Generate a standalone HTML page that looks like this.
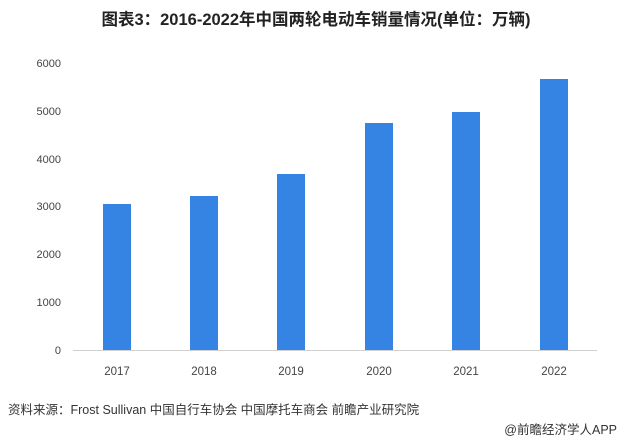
<!DOCTYPE html>
<html><head><meta charset="utf-8"><style>
body{margin:0;width:618px;height:442px;background:#fff;overflow:hidden;font-family:"Liberation Sans","Noto Sans CJK SC",sans-serif;}
</style></head><body>
<svg width="618" height="442" xmlns="http://www.w3.org/2000/svg" style="position:absolute;left:0;top:0">
<text x="316" y="25" text-anchor="middle" font-size="16.5" font-weight="bold" fill="#222" font-family="Liberation Sans,Noto Sans CJK SC,sans-serif">图表3：2016-2022年中国两轮电动车销量情况(单位：万辆)</text>
<g font-size="11" fill="#444" text-anchor="end" font-family="Liberation Sans,sans-serif">
<text x="61" y="67">6000</text>
<text x="61" y="115">5000</text>
<text x="61" y="163">4000</text>
<text x="61" y="210">3000</text>
<text x="61" y="258">2000</text>
<text x="61" y="306">1000</text>
<text x="61" y="354">0</text>
</g>
<line x1="73" y1="350.5" x2="597" y2="350.5" stroke="#d0d0d0" stroke-width="1"/>
<g fill="#3584e4">
<rect x="103" y="204" width="28" height="146"/>
<rect x="190" y="196" width="28" height="154"/>
<rect x="277" y="174" width="28" height="176"/>
<rect x="365" y="123" width="28" height="227"/>
<rect x="452" y="112" width="28" height="238"/>
<rect x="540" y="79" width="28" height="271"/>
</g>
<g font-size="11.5" fill="#444" text-anchor="middle" font-family="Liberation Sans,sans-serif">
<text x="117" y="375">2017</text>
<text x="204" y="375">2018</text>
<text x="291" y="375">2019</text>
<text x="379" y="375">2020</text>
<text x="466" y="375">2021</text>
<text x="554" y="375">2022</text>
</g>
<text x="8" y="414" font-size="12.5" fill="#333" font-family="Liberation Sans,Noto Sans CJK SC,sans-serif">资料来源：Frost Sullivan 中国自行车协会 中国摩托车商会 前瞻产业研究院</text>
<text x="617" y="434" text-anchor="end" font-size="12.5" fill="#333" font-family="Liberation Sans,Noto Sans CJK SC,sans-serif">@前瞻经济学人APP</text>
</svg>
</body></html>
